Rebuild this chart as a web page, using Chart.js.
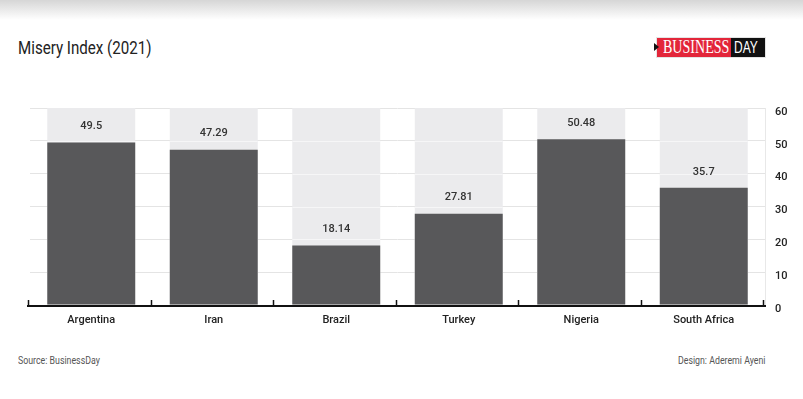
<!DOCTYPE html>
<html>
<head>
<meta charset="utf-8">
<script src="https://cdn.jsdelivr.net/npm/chart.js@4.4.0/dist/chart.umd.min.js"></script>
<style>
  html, body { margin:0; padding:0; width:803px; height:399px; overflow:hidden; background:#fff; }
  body { position:relative; font-family:'Roboto',sans-serif; }
  #shade { position:absolute; left:0; top:0; width:803px; height:20px; background:linear-gradient(#d6d6d6, #ffffff); }
  #title { position:absolute; left:18px; top:37px; font-size:18px; color:#222; transform:scaleX(0.84); transform-origin:0 0; white-space:nowrap; }
  #logo { position:absolute; left:656px; top:37px; height:19px; width:108px; border:1px solid #e4e4e4; display:flex; }
  #logo .b { background:#e3263a; color:#fff; width:74px; height:19px; overflow:hidden; position:relative; }
  #logo .d { background:#111; color:#fff; width:34px; height:19px; overflow:hidden; position:relative; }
  #logo span { position:absolute; white-space:nowrap; transform-origin:0 0; }
  #logo .b span { left:6px; top:0px; font-family:'Liberation Serif','DejaVu Serif',serif; font-size:18px; line-height:19px; transform:scaleX(0.78); }
  #logo .d span { left:3px; top:1px; font-family:'Liberation Sans','DejaVu Sans',sans-serif; font-size:16px; line-height:18px; transform:scaleX(0.75); }
  #arrow { position:absolute; left:654px; top:43px; width:0; height:0; border-top:4px solid transparent; border-bottom:4px solid transparent; border-left:5px solid #111; }
  #src { position:absolute; left:18px; top:355px; font-size:10px; color:#555; transform:scaleX(0.88); transform-origin:0 0; white-space:nowrap; }
  #des { position:absolute; right:38px; top:355px; font-size:10px; color:#555; transform:scaleX(0.88); transform-origin:100% 0; white-space:nowrap; }
  #c { position:absolute; left:0; top:0; }
</style>
</head>
<body>
<div id="shade"></div>
<div id="title">Misery Index (2021)</div>
<div id="logo"><div class="b"><span>BUSINESS</span></div><div class="d"><span>DAY</span></div></div>
<div id="arrow"></div>
<div id="src">Source: BusinessDay</div>
<div id="des">Design: Aderemi Ayeni</div>
<canvas id="c" width="803" height="399"></canvas>
<script>
const categories = ["Argentina", "Iran", "Brazil", "Turkey", "Nigeria", "South Africa"];
const miseryValues = [49.5, 47.29, 18.14, 27.81, 50.48, 35.7];
const valueLabels = ["49.5", "47.29", "18.14", "27.81", "50.48", "35.7"];
const backgroundValues = [60, 60, 60, 60, 60, 60];
const yTicks = [0, 10, 20, 30, 40, 50, 60];

const FONT = "'Roboto',sans-serif";

const lightGridPlugin = {
  id: 'lightGrid',
  afterDatasetDraw(chart, args) {
    if (args.index !== 1) return; // background dataset drawn
    const ctx = chart.ctx;
    const y = chart.scales.y;
    const meta = chart.getDatasetMeta(1);
    ctx.save();
    ctx.strokeStyle = '#f6f6f7';
    ctx.lineWidth = 1;
    meta.data.forEach(bar => {
      const half = bar.width / 2;
      yTicks.forEach(t => {
        if (t === 0 || t === 60) return;
        const py = Math.round(y.getPixelForValue(t)) + 0.5;
        ctx.beginPath();
        ctx.moveTo(bar.x - half, py);
        ctx.lineTo(bar.x + half, py);
        ctx.stroke();
      });
    });
    ctx.restore();
  }
};

const decoPlugin = {
  id: 'deco',
  afterDatasetsDraw(chart) {
    const ctx = chart.ctx;
    const area = chart.chartArea;
    const meta = chart.getDatasetMeta(0);
    ctx.save();
    ctx.fillStyle = '#333';
    ctx.font = '500 11px ' + FONT;
    ctx.textAlign = 'center';
    ctx.textBaseline = 'middle';
    meta.data.forEach((bar, i) => {
      ctx.fillText(valueLabels[i], bar.x, bar.y - 16);
    });
    const n = categories.length;
    const w = (area.right - area.left) / n;
    ctx.strokeStyle = '#111';
    ctx.lineWidth = 2;
    ctx.beginPath();
    ctx.moveTo(area.left - 3, area.bottom + 1);
    ctx.lineTo(area.right + 1, area.bottom + 1);
    ctx.stroke();
    ctx.lineWidth = 1.5;
    for (let i = 0; i <= n; i++) {
      const x = Math.round(area.left + i * w);
      ctx.beginPath();
      ctx.moveTo(x - 1.5, area.bottom + 1);
      ctx.lineTo(x - 1.5, area.bottom - 5);
      ctx.stroke();
    }
    ctx.restore();
  }
};

new Chart(document.getElementById('c'), {
  type: 'bar',
  data: {
    labels: categories,
    datasets: [
      {
        label: 'Misery Index',
        data: miseryValues,
        backgroundColor: '#58585a',
        order: 1,
        grouped: false,
        categoryPercentage: 1,
        barPercentage: 0.718
      },
      {
        label: 'bg',
        data: backgroundValues,
        backgroundColor: '#ebebed',
        order: 2,
        grouped: false,
        categoryPercentage: 1,
        barPercentage: 0.718
      }
    ]
  },
  options: {
    responsive: false,
    animation: false,
    devicePixelRatio: 1,
    layout: { padding: { left: 30, top: 108, right: 0, bottom: 64 } },
    plugins: { legend: { display: false }, tooltip: { enabled: false }, title: { display: false } },
    scales: {
      x: {
        grid: { display: false, drawTicks: false },
        border: { display: false },
        ticks: { color: '#222', font: { family: FONT, size: 11, weight: '500' }, padding: 9 },
        afterFit(s) { s.height = 30; }
      },
      y: {
        position: 'right',
        min: 0, max: 60,
        afterBuildTicks(s) { s.ticks = yTicks.map(v => ({ value: v })); },
        grid: { color: '#e4e4e4', lineWidth: 1, drawTicks: false },
        border: { display: true, color: '#e8e8e8' },
        ticks: { color: '#222', font: { family: FONT, size: 11, weight: '500' }, padding: 10, labelOffset: 4, crossAlign: 'near' },
        afterFit(s) { s.width = 38; }
      }
    }
  },
  plugins: [lightGridPlugin, decoPlugin]
});
</script>
</body>
</html>
